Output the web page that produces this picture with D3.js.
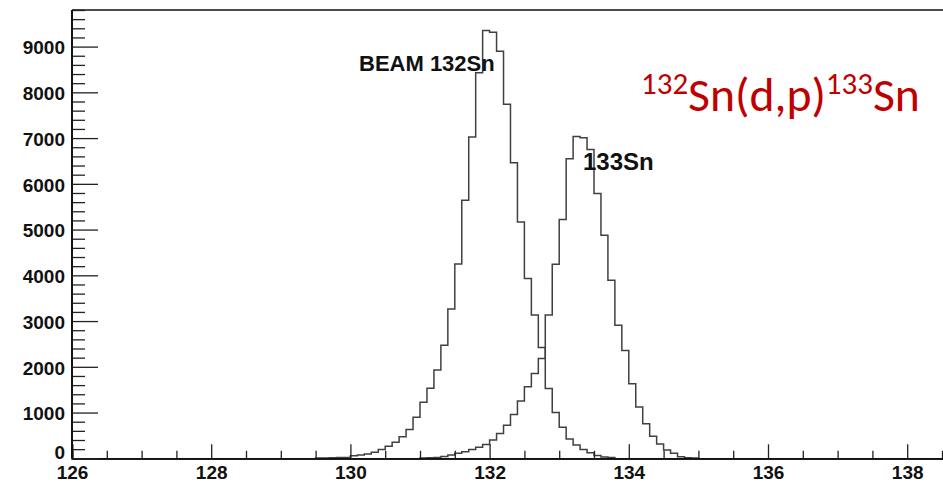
<!DOCTYPE html>
<html><head><meta charset="utf-8">
<script src="https://cdn.jsdelivr.net/npm/d3@7"></script>
<style>body{margin:0;background:#fff} svg{display:block}</style>
</head><body><svg id="c" width="943" height="482"></svg>
<script>
// ---- data ----
const binWidth = 0.1;
const beamStart = 129.5;   // low edge of first BEAM 132Sn bin
const beamCounts = [5, 8, 12, 15, 20, 55, 70, 95, 130, 195, 265, 350, 470, 630, 900,
  1225, 1530, 1928, 2474, 3265, 4245, 5640, 7022, 8430, 9350, 9315, 8900, 7740, 6460,
  5166, 3930, 3135, 2420, 1528, 1000, 680, 420, 290, 190, 120, 60, 30, 15];
const sn133Start = 131.0;  // low edge of first 133Sn bin
const sn133Counts = [5, 10, 16, 42, 72, 110, 145, 190, 240, 300, 400, 540, 720, 960,
  1250, 1563, 1856, 2183, 3135, 4240, 5220, 6550, 7037, 7009, 6750, 5786, 4875, 3893,
  2911, 2355, 1630, 1120, 755, 480, 310, 181, 109, 35, 12, 8];
const xMajorTicks = [126, 128, 130, 132, 134, 136, 138];
const yMajorTicks = [0, 1000, 2000, 3000, 4000, 5000, 6000, 7000, 8000, 9000];
const xDomain = [126, 140];
const yDomain = [0, 9800];
const peakLabels = ["BEAM 132Sn", "133Sn"];

// ---- drawing ----
(function () {
const svg = d3.select("#c");
const W = 943;
const padL = 72, padT = 10, yBase = 458.3;
const x = d3.scaleLinear().domain(xDomain).range([padL, padL + 14 * 69.6]);
const y = d3.scaleLinear().domain(yDomain).range([yBase, padT]);
const font = "'Liberation Sans', Arial, Helvetica, sans-serif";

function stepPoints(start, counts) {
  const pts = [[start, 0]];
  counts.forEach((c, i) => pts.push([start + i * binWidth, c]));
  const last = start + counts.length * binWidth;
  pts.push([last, counts[counts.length - 1]]);
  pts.push([last, 0]);
  return pts;
}
const line = d3.line().x(d => x(d[0])).y(d => y(d[1])).curve(d3.curveStepAfter);

[[beamStart, beamCounts], [sn133Start, sn133Counts]].forEach(([s, c]) => {
  svg.append("path").attr("d", line(stepPoints(s, c)))
    .attr("fill", "none").attr("stroke", "#404040").attr("stroke-width", 1.5);
});

// frame top
svg.append("line").attr("x1", padL).attr("x2", W + 5).attr("y1", padT).attr("y2", padT)
  .attr("stroke", "#111").attr("stroke-width", 1.6);

// x axis
const xMinor = d3.range(126, 140.01, 0.5).filter(v => v % 2 !== 0);
const gxm = svg.append("g").attr("transform", `translate(0,${yBase})`)
  .call(d3.axisBottom(x).tickValues(xMinor).tickSize(-7.5).tickFormat(""));
const gx = svg.append("g").attr("transform", `translate(0,${yBase})`)
  .call(d3.axisBottom(x).tickValues(xMajorTicks.concat([140])).tickSize(-14).tickPadding(7)
    .tickFormat(d => xMajorTicks.includes(d) ? d : ""));
// y axis
const yMinor = d3.range(0, 9801, 200).filter(v => v % 1000 !== 0);
const gym = svg.append("g").attr("transform", `translate(${padL},0)`)
  .call(d3.axisLeft(y).tickValues(yMinor).tickSize(-13).tickFormat(""));
const gy = svg.append("g").attr("transform", `translate(${padL},0)`)
  .call(d3.axisLeft(y).tickValues(yMajorTicks).tickSize(-26).tickPadding(7)
    .tickFormat(d3.format("d")));

[gx, gxm, gy, gym].forEach(g => {
  g.select(".domain").attr("stroke", "#111").attr("stroke-width", 1.8);
  g.selectAll(".tick line").attr("stroke", "#222").attr("stroke-width", 1.3);
  g.selectAll("text").attr("font-family", font).attr("font-weight", "bold")
    .attr("fill", "#111");
});
gx.selectAll("text").attr("font-size", 19);
gy.selectAll("text").attr("font-size", 19).attr("dy", "0.38em");
gy.selectAll(".tick").filter(d => d === 0).select("text").attr("dy", "0.02em");
gy.select(".domain").attr("d", `M0,${padT}V${yBase}`);
gym.select(".domain").attr("d", `M0,${padT}V${yBase}`);

// peak labels
svg.append("text").attr("x", 359).attr("y", 71).text(peakLabels[0])
  .attr("font-family", font).attr("font-weight", "bold").attr("font-size", 22).attr("fill", "#111");
svg.append("text").attr("x", 583).attr("y", 170).text(peakLabels[1])
  .attr("font-family", font).attr("font-weight", "bold").attr("font-size", 24).attr("fill", "#111");

// reaction title
const title = svg.append("text").attr("x", 641).attr("y", 111)
  .attr("font-family", "Carlito, Calibri, Lato, 'Noto Sans', sans-serif").attr("fill", "#c00000")
  .attr("font-size", 40);
const parts = [["132", true], ["Sn(d,p)", false], ["133", true], ["Sn", false]];
parts.forEach(([t, sup]) => {
  const ts = title.append("tspan").text(t);
  if (sup) ts.attr("font-size", "0.65em").attr("baseline-shift", "0.55em");
});
const bw = title.node().getBBox().width;
title.attr("font-size", 40 * 279 / bw);
})();
</script></body></html>
